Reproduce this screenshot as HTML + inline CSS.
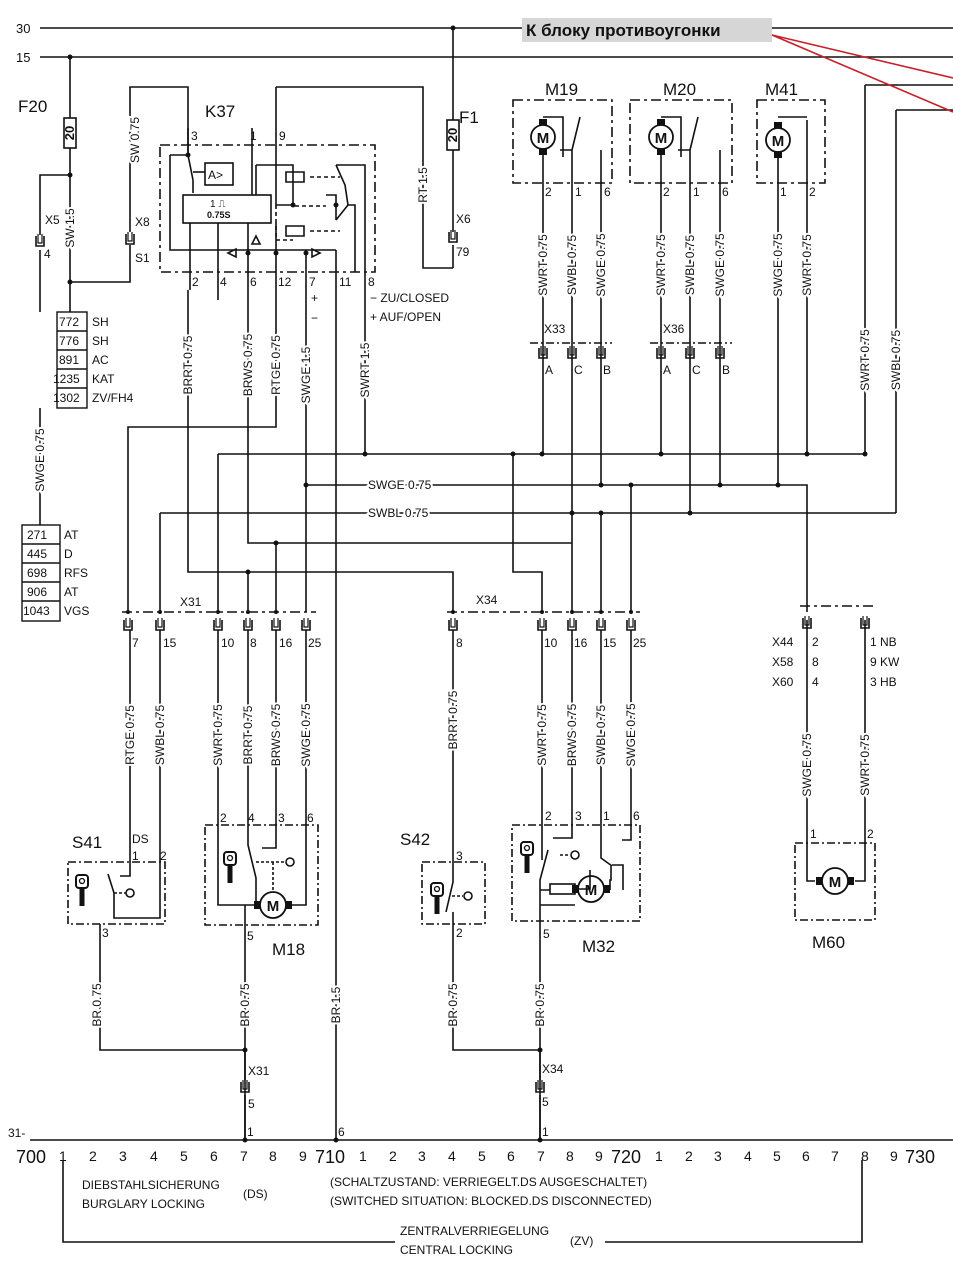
<!DOCTYPE html>
<html><head><meta charset="utf-8"><style>
html,body{margin:0;padding:0;background:#fff;}
svg{display:block;}
text{font-family:"Liberation Sans",sans-serif;fill:#111;}
.w{font-size:12px;stroke:#fff;stroke-width:4px;paint-order:stroke;}
.p{font-size:12px;}
.b{font-size:17px;}
</style></head><body>
<svg width="953" height="1285" viewBox="0 0 953 1285" xmlns="http://www.w3.org/2000/svg">
<defs>
<g id="cup"><path d="M-4,0 v10 h8 v-10" fill="none" stroke="#111" stroke-width="1.6"/><path d="M-2,-2 v9 h4 v-9" fill="none" stroke="#111" stroke-width="1.2"/></g>
<g id="key"><rect x="-6" y="-10" width="12" height="13" rx="3" fill="none" stroke="#111" stroke-width="2"/><circle cx="0" cy="-4" r="2.5" fill="none" stroke="#111" stroke-width="1.3"/><rect x="-2.5" y="3" width="5" height="18" fill="#111"/></g>
<g id="mot"><circle r="13" fill="none" stroke="#111" stroke-width="1.8"/><rect x="-19" y="-4" width="6" height="8" fill="#111"/><rect x="13" y="-4" width="6" height="8" fill="#111"/></g>
<g id="motv"><circle r="12" fill="none" stroke="#111" stroke-width="1.8"/><rect x="-4" y="-18" width="8" height="6" fill="#111"/><rect x="-4" y="12" width="8" height="6" fill="#111"/></g>
</defs>
<g stroke="#111" stroke-width="1.6" fill="none">
<!-- top rails -->
<path d="M40,28H953 M40,57H953"/>
<!-- F20 -->
<path d="M70,57V312 M70,175H40V235 M40,250V312 M70,282H130V245 M130,232V87H188V155"/>
<path d="M40,408V525"/>
<!-- K37 box -->
<rect x="160" y="145" width="215" height="127" stroke-dasharray="10,4,3,4"/>
<path d="M188,128V155 L193,180 M170,155H188 M170,155V250H336 M193,180V193"/>
<rect x="205" y="163" width="28" height="22"/>
<path d="M193,172H205"/>
<rect x="183" y="195" width="88" height="28"/>
<path d="M252,128V195 M276,87H423V268H453 M276,87V205H293 M256,165H293V205 M256,165V195"/>
<path d="M286,182h18v-10h-18z M286,236h18v-10h-18z" />
<path d="M276,205V240 H293 M295,206H326 M310,177H340 M310,231H340" stroke-dasharray="4,3"/>
<path d="M336,165H365V272 M336,165L345,185 L348,205 L336,220 M326,195H336V220 M348,205H355V272"/>
<path d="M190,223V290 M218,223V300 M248,223V290 M276,223V290 M306,250V290 M336,250V290 M365,272V290"/>
<path d="M228,253l8,-4v8z M320,253l-8,-4v8z M256,236l-4,8h8z"/>
<!-- F1 -->
<path d="M453,28V232 M453,245V268"/>
<!-- wires down from K37 -->
<path d="M188,290V572H453V612 M248,290V543H572V612 M276,290V427H128V612 M306,290V485H807V612 M336,290V1140 M365,290V454 M218,454H865 M218,454V612 M160,513H896 M160,513V612 M248,572V612 M276,543V612 M306,485V612 M513,454V572H542V612 M631,485V612 M601,513V612 M572,513V543"/>
<!-- right top -->
<path d="M865,85H953 M865,85V454 M896,110H953 M896,110V513"/>
<!-- M19 M20 M41 -->
<rect x="513" y="100" width="99" height="83" stroke-dasharray="10,4,3,4"/>
<rect x="630" y="100" width="102" height="83" stroke-dasharray="10,4,3,4"/>
<rect x="757" y="100" width="68" height="83" stroke-dasharray="10,4,3,4"/>
<path d="M543,150V343 M572,150V343 M601,150V343 M543,117h20v40 M572,150L580,117 M572,150H560 M601,160V150"/>
<path d="M661,150V343 M690,150V343 M720,150V343 M661,117h20v40 M690,150L698,117 M690,150H678 M720,160V150"/>
<path d="M778,155V454 M807,120V454 M778,117h29"/>
<path d="M778,454V485 M543,343V454 M661,343V454 M572,343V513 M690,343V513 M601,343V485 M720,343V485"/>
<path d="M530,343H612 M650,343H732" stroke-dasharray="8,3,2,3"/>
<!-- connectors lines -->
<path d="M122,612H316 M447,612H640 M800,606H875" stroke-dasharray="10,4,3,4"/>
<!-- lower verticals -->
<path d="M130,630V868 M160,630V862 M218,630V825 M248,630V825 M276,630V825 M306,630V825 M453,630V862 M542,630V825 M572,630V825 M601,630V825 M631,630V825 M807,620V843 M865,620V843"/>
<!-- S41 -->
<rect x="68" y="862" width="97" height="62" stroke-dasharray="8,3,2,3"/>
<path d="M160,862V918H114V893 L108,874 M130,868V876H120 M100,924V1050H245"/>
<path d="M114,893H126" stroke-dasharray="3,2"/>
<circle cx="130" cy="893" r="4"/>
<!-- M18 -->
<rect x="205" y="825" width="113" height="100" stroke-dasharray="8,3,2,3"/>
<path d="M218,825V905H258 M248,825V845 L256,878 V905 M276,825V848H262 M306,825V905H290 M245,905V1140"/>
<path d="M256,862H285 M273,862V890" stroke-dasharray="3,2"/>
<circle cx="290" cy="862" r="4"/>
<!-- S42 -->
<rect x="422" y="862" width="63" height="62" stroke-dasharray="8,3,2,3"/>
<path d="M453,862V882 L446,912 M453,912V1050H540"/>
<circle cx="468" cy="896" r="4"/>
<path d="M452,896H463" stroke-dasharray="3,2"/>
<!-- M32 -->
<rect x="512" y="825" width="128" height="96" stroke-dasharray="8,3,2,3"/>
<path d="M542,825V860 M548,850L540,880 V905 H575 M540,880V890 H550 M572,825V838H553 M601,825V858 L612,866 M631,825V840H622 M611,866V880 H610 V890 M540,905V1140 M610,890H606"/>
<rect x="550" y="884" width="25" height="10"/>
<path d="M575,889H590V870 M612,865H623V890" />
<path d="M560,855H570" stroke-dasharray="3,2"/>
<circle cx="575" cy="855" r="4"/>
<!-- M60 -->
<rect x="795" y="843" width="80" height="77" stroke-dasharray="8,3,2,3"/>
<path d="M807,843V881H815 M865,843V881H855"/>
<!-- bottom connectors -->
<path d="M245,1050V1080 M245,1095V1140 M540,1050V1080 M540,1095V1140"/>
<!-- bottom rail -->
<path d="M30,1140H953"/>
<path d="M63,1160V1242H395 M605,1242H862V1160"/>
</g>
<!-- junction dots -->
<g fill="#111">
<circle cx="453" cy="28" r="2.5"/><circle cx="70" cy="57" r="2.5"/><circle cx="70" cy="175" r="2.5"/><circle cx="70" cy="282" r="2.5"/>
<circle cx="188" cy="155" r="2.5"/><circle cx="293" cy="205" r="2.5"/><circle cx="336" cy="205" r="2.5"/><circle cx="248" cy="253" r="2.5"/><circle cx="276" cy="253" r="2.5"/><circle cx="306" cy="253" r="2.5"/>
<circle cx="365" cy="454" r="2.5"/><circle cx="513" cy="454" r="2.5"/><circle cx="542" cy="454" r="2.5"/><circle cx="661" cy="454" r="2.5"/><circle cx="807" cy="454" r="2.5"/><circle cx="865" cy="454" r="2.5"/>
<circle cx="306" cy="485" r="2.5"/><circle cx="601" cy="485" r="2.5"/><circle cx="631" cy="485" r="2.5"/><circle cx="720" cy="485" r="2.5"/><circle cx="778" cy="485" r="2.5"/>
<circle cx="572" cy="513" r="2.5"/><circle cx="601" cy="513" r="2.5"/><circle cx="690" cy="513" r="2.5"/>
<circle cx="276" cy="543" r="2.5"/><circle cx="248" cy="572" r="2.5"/>
<circle cx="128" cy="612" r="2"/><circle cx="160" cy="612" r="2"/><circle cx="218" cy="612" r="2"/><circle cx="248" cy="612" r="2"/><circle cx="276" cy="612" r="2"/><circle cx="453" cy="612" r="2"/><circle cx="542" cy="612" r="2"/><circle cx="572" cy="612" r="2"/><circle cx="601" cy="612" r="2"/><circle cx="631" cy="612" r="2"/>
<circle cx="245" cy="1050" r="2.5"/><circle cx="540" cy="1050" r="2.5"/><circle cx="245" cy="1140" r="2.5"/><circle cx="336" cy="1140" r="2.5"/><circle cx="540" cy="1140" r="2.5"/>
</g>
<!-- connector cups -->
<use href="#cup" x="40" y="236"/><use href="#cup" x="130" y="234"/><use href="#cup" x="453" y="232"/>
<use href="#cup" x="543" y="348"/><use href="#cup" x="572" y="348"/><use href="#cup" x="601" y="348"/>
<use href="#cup" x="661" y="348"/><use href="#cup" x="690" y="348"/><use href="#cup" x="720" y="348"/>
<use href="#cup" x="128" y="620"/><use href="#cup" x="160" y="620"/><use href="#cup" x="218" y="620"/><use href="#cup" x="248" y="620"/><use href="#cup" x="276" y="620"/><use href="#cup" x="306" y="620"/>
<use href="#cup" x="453" y="620"/><use href="#cup" x="542" y="620"/><use href="#cup" x="572" y="620"/><use href="#cup" x="601" y="620"/><use href="#cup" x="631" y="620"/>
<use href="#cup" x="807" y="618"/><use href="#cup" x="865" y="618"/>
<use href="#cup" x="245" y="1082"/><use href="#cup" x="540" y="1082"/>
<!-- fuses -->
<g stroke="#111" stroke-width="1.6" fill="#fff"><rect x="64" y="118" width="12" height="30"/><rect x="447" y="120" width="12" height="30"/></g>
<text transform="translate(74,133) rotate(-90)" text-anchor="middle" font-size="13" font-weight="bold">20</text>
<text transform="translate(457,135) rotate(-90)" text-anchor="middle" font-size="13" font-weight="bold">20</text>
<!-- motors -->
<use href="#motv" x="543" y="137"/><use href="#motv" x="661" y="137"/><use href="#motv" x="778" y="140"/>
<use href="#mot" x="273" y="905"/><use href="#mot" x="591" y="889"/><use href="#mot" x="835" y="881"/>
<g font-size="15" font-weight="bold" text-anchor="middle"><text x="543" y="143">M</text><text x="661" y="143">M</text><text x="778" y="146">M</text><text x="273" y="911">M</text><text x="591" y="895">M</text><text x="835" y="887">M</text></g>
<!-- keys -->
<use href="#key" x="82" y="885"/><use href="#key" x="230" y="862"/><use href="#key" x="437" y="893"/><use href="#key" x="527" y="852"/>
<!-- K37 inner text -->
<text x="208" y="179" font-size="12">A&gt;</text>
<text x="210" y="207" font-size="10">1 ⎍</text>
<text x="207" y="218" font-size="9" font-weight="bold">0.75S</text>
<!-- red label -->
<rect x="522" y="18" width="250" height="24" fill="#d6d6d6"/>
<text x="526" y="36" font-size="17" font-weight="bold">К блоку противоугонки</text>
<path d="M772,35L953,78 M772,35L953,112" stroke="#c8202a" stroke-width="1.6"/>
<!-- big labels -->
<g class="b">
<text x="16" y="33" font-size="13">30</text><text x="16" y="62" font-size="13">15</text>
<text x="18" y="112">F20</text><text x="205" y="117">K37</text><text x="459" y="123">F1</text>
<text x="545" y="95">M19</text><text x="663" y="95">M20</text><text x="765" y="95">M41</text>
<text x="72" y="848">S41</text><text x="400" y="845">S42</text><text x="272" y="955">M18</text><text x="582" y="952">M32</text><text x="812" y="948">M60</text>
</g>
<!-- pin labels -->
<g class="p">
<text x="191" y="140">3</text><text x="250" y="140">1</text><text x="279" y="140">9</text>
<text x="192" y="286">2</text><text x="220" y="286">4</text><text x="250" y="286">6</text><text x="278" y="286">12</text><text x="309" y="286">7</text><text x="339" y="286">11</text><text x="368" y="286">8</text>
<text x="311" y="302">+</text><text x="311" y="322">−</text>
<text x="370" y="302">− ZU/CLOSED</text><text x="370" y="321">+ AUF/OPEN</text>
<text x="45" y="224">X5</text><text x="44" y="258">4</text><text x="135" y="226">X8</text><text x="135" y="262">S1</text>
<text x="456" y="223">X6</text><text x="456" y="256">79</text>
<text x="545" y="196">2</text><text x="575" y="196">1</text><text x="604" y="196">6</text>
<text x="663" y="196">2</text><text x="693" y="196">1</text><text x="722" y="196">6</text>
<text x="780" y="196">1</text><text x="809" y="196">2</text>
<text x="544" y="333">X33</text><text x="663" y="333">X36</text>
<text x="545" y="374">A</text><text x="574" y="374">C</text><text x="603" y="374">B</text><text x="663" y="374">A</text><text x="692" y="374">C</text><text x="722" y="374">B</text>
<text x="180" y="606">X31</text><text x="476" y="604">X34</text>
<text x="132" y="647">7</text><text x="163" y="647">15</text><text x="221" y="647">10</text><text x="250" y="647">8</text><text x="279" y="647">16</text><text x="308" y="647">25</text>
<text x="456" y="647">8</text><text x="544" y="647">10</text><text x="574" y="647">16</text><text x="603" y="647">15</text><text x="633" y="647">25</text>
<text x="772" y="646">X44</text><text x="812" y="646">2</text><text x="772" y="666">X58</text><text x="812" y="666">8</text><text x="772" y="686">X60</text><text x="812" y="686">4</text>
<text x="870" y="646">1 NB</text><text x="870" y="666">9 KW</text><text x="870" y="686">3 HB</text>
<text x="132" y="843">DS</text><text x="132" y="860">1</text><text x="160" y="860">2</text><text x="102" y="937">3</text>
<text x="220" y="822">2</text><text x="248" y="822">4</text><text x="278" y="822">3</text><text x="307" y="822">6</text><text x="247" y="940">5</text>
<text x="456" y="860">3</text><text x="456" y="937">2</text>
<text x="545" y="820">2</text><text x="575" y="820">3</text><text x="603" y="820">1</text><text x="633" y="820">6</text><text x="543" y="938">5</text>
<text x="810" y="838">1</text><text x="867" y="838">2</text>
<text x="248" y="1075">X31</text><text x="248" y="1108">5</text><text x="542" y="1073">X34</text><text x="542" y="1106">5</text>
<text x="247" y="1136">1</text><text x="338" y="1136">6</text><text x="542" y="1136">1</text>
<text x="8" y="1137">31-</text>
</g>
<!-- code boxes -->
<g stroke="#111" stroke-width="1.4" fill="none">
<rect x="57" y="312" width="30" height="96"/><path d="M57,331H87 M57,350H87 M57,369H87 M57,388H87"/>
<rect x="22" y="525" width="38" height="96"/><path d="M22,544H60 M22,563H60 M22,582H60 M22,601H60"/>
</g>
<g class="p">
<text x="59" y="326">772</text><text x="92" y="326">SH</text><text x="59" y="345">776</text><text x="92" y="345">SH</text><text x="59" y="364">891</text><text x="92" y="364">AC</text><text x="53" y="383">1235</text><text x="92" y="383">KAT</text><text x="53" y="402">1302</text><text x="92" y="402">ZV/FH4</text>
<text x="27" y="539">271</text><text x="64" y="539">AT</text><text x="27" y="558">445</text><text x="64" y="558">D</text><text x="27" y="577">698</text><text x="64" y="577">RFS</text><text x="27" y="596">906</text><text x="64" y="596">AT</text><text x="23" y="615">1043</text><text x="64" y="615">VGS</text>
</g>
<!-- rotated wire labels -->
<g class="w" text-anchor="middle">
<text transform="translate(135,140) rotate(-90)" dy="4">SW 0.75</text>
<text transform="translate(70,228) rotate(-90)" dy="4">SW 1.5</text>
<text transform="translate(423,185) rotate(-90)" dy="4">RT 1.5</text>
<text transform="translate(40,460) rotate(-90)" dy="4">SWGE 0.75</text>
<text transform="translate(188,365) rotate(-90)" dy="4">BRRT 0.75</text>
<text transform="translate(248,365) rotate(-90)" dy="4">BRWS 0.75</text>
<text transform="translate(276,365) rotate(-90)" dy="4">RTGE 0.75</text>
<text transform="translate(306,375) rotate(-90)" dy="4">SWGE 1.5</text>
<text transform="translate(365,370) rotate(-90)" dy="4">SWRT 1.5</text>
<text transform="translate(543,265) rotate(-90)" dy="4">SWRT 0.75</text>
<text transform="translate(572,265) rotate(-90)" dy="4">SWBL 0.75</text>
<text transform="translate(601,265) rotate(-90)" dy="4">SWGE 0.75</text>
<text transform="translate(661,265) rotate(-90)" dy="4">SWRT 0.75</text>
<text transform="translate(690,265) rotate(-90)" dy="4">SWBL 0.75</text>
<text transform="translate(720,265) rotate(-90)" dy="4">SWGE 0.75</text>
<text transform="translate(778,265) rotate(-90)" dy="4">SWGE 0.75</text>
<text transform="translate(807,265) rotate(-90)" dy="4">SWRT 0.75</text>
<text transform="translate(865,360) rotate(-90)" dy="4">SWRT 0.75</text>
<text transform="translate(896,360) rotate(-90)" dy="4">SWBL 0.75</text>
<text transform="translate(130,735) rotate(-90)" dy="4">RTGE 0.75</text>
<text transform="translate(160,735) rotate(-90)" dy="4">SWBL 0.75</text>
<text transform="translate(218,735) rotate(-90)" dy="4">SWRT 0.75</text>
<text transform="translate(248,735) rotate(-90)" dy="4">BRRT 0.75</text>
<text transform="translate(276,735) rotate(-90)" dy="4">BRWS 0.75</text>
<text transform="translate(306,735) rotate(-90)" dy="4">SWGE 0.75</text>
<text transform="translate(453,720) rotate(-90)" dy="4">BRRT 0.75</text>
<text transform="translate(542,735) rotate(-90)" dy="4">SWRT 0.75</text>
<text transform="translate(572,735) rotate(-90)" dy="4">BRWS 0.75</text>
<text transform="translate(601,735) rotate(-90)" dy="4">SWBL 0.75</text>
<text transform="translate(631,735) rotate(-90)" dy="4">SWGE 0.75</text>
<text transform="translate(807,765) rotate(-90)" dy="4">SWGE 0.75</text>
<text transform="translate(865,765) rotate(-90)" dy="4">SWRT 0.75</text>
<text transform="translate(97,1005) rotate(-90)" dy="4">BR 0.75</text>
<text transform="translate(245,1005) rotate(-90)" dy="4">BR 0.75</text>
<text transform="translate(336,1005) rotate(-90)" dy="4">BR 1.5</text>
<text transform="translate(453,1005) rotate(-90)" dy="4">BR 0.75</text>
<text transform="translate(540,1005) rotate(-90)" dy="4">BR 0.75</text>
</g>
<g class="w">
<text x="368" y="489">SWGE 0.75</text>
<text x="368" y="517">SWBL 0.75</text>
</g>
<!-- bottom scale -->
<g font-size="14">
<text x="16" y="1163" font-size="18">700</text>
<text x="59" y="1161">1</text><text x="89" y="1161">2</text><text x="119" y="1161">3</text><text x="150" y="1161">4</text><text x="180" y="1161">5</text><text x="210" y="1161">6</text><text x="240" y="1161">7</text><text x="269" y="1161">8</text><text x="299" y="1161">9</text>
<text x="315" y="1163" font-size="18">710</text>
<text x="359" y="1161">1</text><text x="389" y="1161">2</text><text x="418" y="1161">3</text><text x="448" y="1161">4</text><text x="478" y="1161">5</text><text x="507" y="1161">6</text><text x="537" y="1161">7</text><text x="566" y="1161">8</text><text x="595" y="1161">9</text>
<text x="611" y="1163" font-size="18">720</text>
<text x="655" y="1161">1</text><text x="685" y="1161">2</text><text x="714" y="1161">3</text><text x="744" y="1161">4</text><text x="773" y="1161">5</text><text x="802" y="1161">6</text><text x="831" y="1161">7</text><text x="861" y="1161">8</text><text x="890" y="1161">9</text>
<text x="905" y="1163" font-size="18">730</text>
</g>
<g font-size="12">
<text x="82" y="1189">DIEBSTAHLSICHERUNG</text>
<text x="82" y="1208">BURGLARY LOCKING</text>
<text x="243" y="1198">(DS)</text>
<text x="330" y="1186">(SCHALTZUSTAND: VERRIEGELT.DS AUSGESCHALTET)</text>
<text x="330" y="1205">(SWITCHED SITUATION: BLOCKED.DS DISCONNECTED)</text>
<text x="400" y="1235">ZENTRALVERRIEGELUNG</text>
<text x="400" y="1254">CENTRAL LOCKING</text>
<text x="570" y="1245">(ZV)</text>
</g>
</svg>
</body></html>
